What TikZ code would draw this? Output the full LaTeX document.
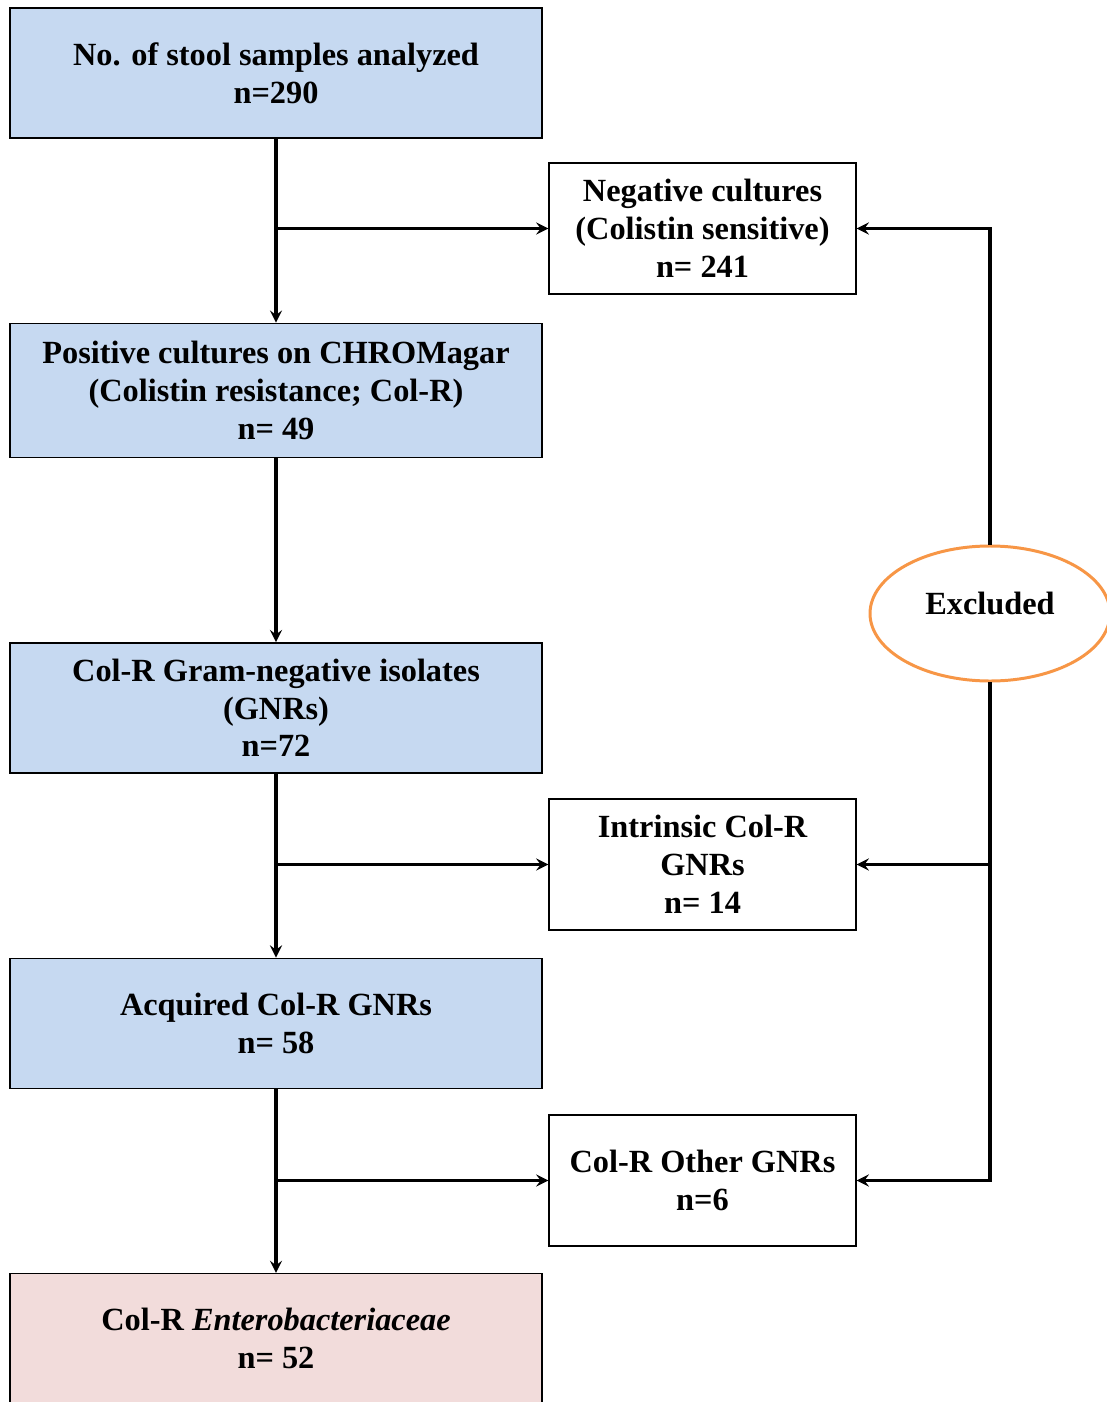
\documentclass[tikz,border=0pt]{standalone}
\usepackage{fontspec}
\setmainfont{Liberation Serif}
\usepackage{xcolor}
\usetikzlibrary{shapes,arrows,positioning,fit}

\definecolor{boxblue}{HTML}{C6D9F1}
\definecolor{boxpink}{HTML}{F2DCDB}
\definecolor{exclorange}{HTML}{F79646}

\begin{document}
\begin{tikzpicture}[
    node distance=3.68cm,
    font=\fontsize{18.4}{21.6}\selectfont\bfseries,
    mainbox/.style={rectangle, draw, line width=0.8pt, fill=boxblue, minimum width=10.64cm, minimum height=2.6cm, align=center, inner sep=0pt},
    sidebox/.style={rectangle, draw, line width=0.8pt, fill=white, minimum width=6.14cm, minimum height=2.62cm, align=center, inner sep=0pt},
    arrow/.style={line width=2pt,->,>=stealth},
    line/.style={line width=2pt}
]
    \useasboundingbox (0,0) rectangle (22.12,-28.04);

    \node[mainbox] (samples) at (5.52,-1.46) {No. of stool samples analyzed\\n=290};
    \node[mainbox, minimum height=2.68cm, below=of samples] (positive) {Positive cultures on CHROMagar\\(Colistin resistance; Col-R)\\n= 49};
    \node[mainbox, below=of positive] (gnr) {Col-R Gram-negative isolates\\(GNRs)\\n=72};
    \node[mainbox, below=of gnr] (acquired) {Acquired Col-R GNRs\\n= 58};
    \node[mainbox, fill=boxpink, below=of acquired] (entero) {Col-R \textit{Enterobacteriaceae}\\n= 52};

    \node[sidebox] (negative) at (14.05,-4.57) {Negative cultures\\(Colistin sensitive)\\n= 241};
    \node[sidebox] (intrinsic) at (14.05,-17.29) {Intrinsic Col-R\\GNRs\\n= 14};
    \node[sidebox] (other) at (14.05,-23.61) {Col-R Other GNRs\\n=6};

    \node[ellipse, draw=exclorange, line width=1.7pt, minimum width=4.8cm, minimum height=2.7cm, inner sep=0pt] (excluded) at (19.8,-12.27) {\raisebox{0.4cm}{Excluded}};

    \draw[arrow] (samples) -- (positive);
    \draw[arrow] (positive) -- (gnr);
    \draw[arrow] (gnr) -- (acquired);
    \draw[arrow] (acquired) -- (entero);

    \draw[arrow] (samples |- negative.west) -- (negative.west);
    \draw[arrow] (gnr |- intrinsic.west) -- (intrinsic.west);
    \draw[arrow] (acquired |- other.west) -- (other.west);

    \draw[arrow] (excluded.north) |- (negative.east);
    \draw[arrow] (excluded.south) |- (other.east);
    \draw[arrow] (excluded.south |- intrinsic.east) -- (intrinsic.east);
\end{tikzpicture}
\end{document}
